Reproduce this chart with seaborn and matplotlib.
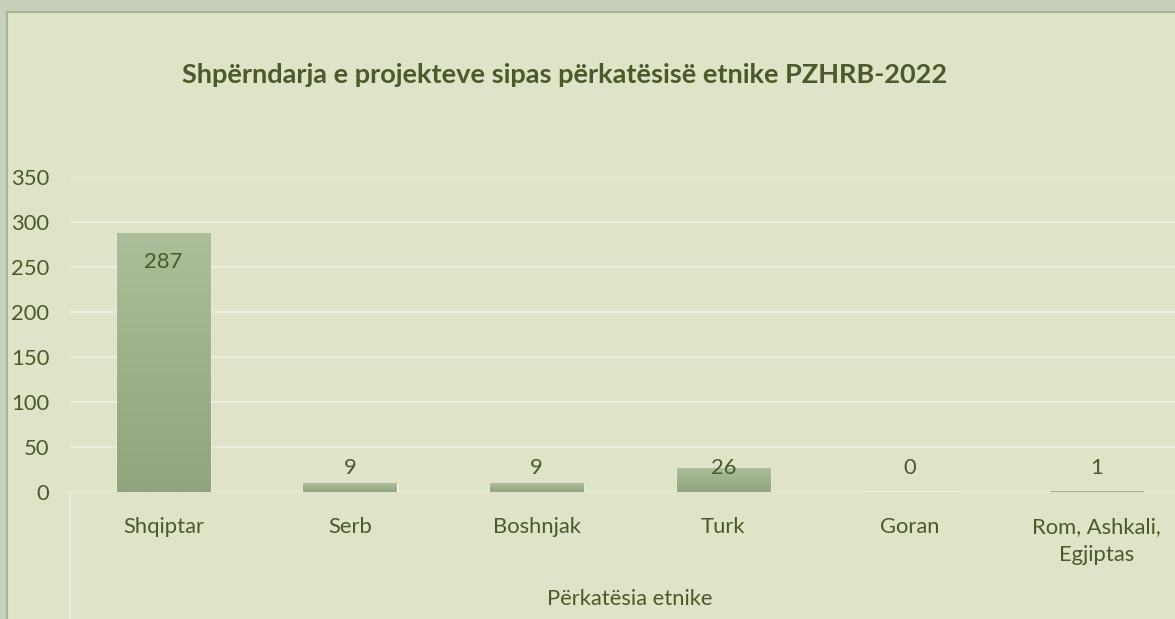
import matplotlib
matplotlib.use("Agg")
import matplotlib.pyplot as plt
import seaborn as sns
import numpy as np
import pandas as pd
from matplotlib.patches import Rectangle
from matplotlib.colors import LinearSegmentedColormap

categories = ["Shqiptar", "Serb", "Boshnjak", "Turk", "Goran", "Rom, Ashkali,\nEgjiptas"]
values = [287, 9, 9, 26, 0, 1]
yticks = [0, 50, 100, 150, 200, 250, 300, 350]
title = "Shpërndarja e projekteve sipas përkatësisë etnike PZHRB-2022"
xlabel = "Përkatësia etnike"

BG = "#dfe4c9"
OUTER = "#c8d0bb"
EDGE = "#a4b594"
TXT = "#4a5a2a"
GRID = "#eceedd"
FS = 15.8

sns.set_theme(style="white")
plt.rcParams['font.family'] = ['Lato', 'DejaVu Sans']

W, H = 1175, 619
fig = plt.figure(figsize=(W / 100, H / 100), dpi=100)
fig.patch.set_facecolor(BG)

# outer frame strips
fig.patches.append(Rectangle((0, 1 - 11 / H), 1, 11 / H, transform=fig.transFigure,
                             facecolor=OUTER, edgecolor="none", zorder=0))
fig.patches.append(Rectangle((0, 0), 6 / W, 1, transform=fig.transFigure,
                             facecolor=OUTER, edgecolor="none", zorder=0))
fig.lines.append(plt.Line2D([6.5 / W, 1], [1 - 11.5 / H, 1 - 11.5 / H], transform=fig.transFigure,
                            color=EDGE, lw=1.5))
fig.lines.append(plt.Line2D([6.5 / W, 6.5 / W], [0, 1 - 11.5 / H], transform=fig.transFigure,
                            color=EDGE, lw=1.5))

left, right = 70 / W, 1190 / W
bottom, top = 1 - 492 / H, 1 - 177 / H
ax = fig.add_axes([left, bottom, right - left, top - bottom])
ax.set_facecolor("none")

df = pd.DataFrame({"cat": categories, "val": values})
sns.barplot(data=df, x="cat", y="val", ax=ax, color="#9fb28b", width=0.5, saturation=1)

ax.set_ylim(0, 350)
ax.set_xlim(-0.5, len(categories) - 0.5)
ax.set_yticks(yticks)
ax.set_yticklabels([str(t) for t in yticks])
for t in yticks:
    ax.axhline(t, color=GRID, lw=1.5, zorder=0.5)

for s in ax.spines.values():
    s.set_visible(False)

# per-bar gradient fill
grad = np.linspace(0, 1, 256).reshape(-1, 1)
cmap = LinearSegmentedColormap.from_list("g", ["#91a47d", "#abbe99"])
for p in ax.patches:
    x0, y0 = p.get_x(), p.get_y()
    w, h = p.get_width(), p.get_height()
    if h <= 0:
        continue
    p.set_facecolor("none")
    ax.imshow(grad, extent=[x0, x0 + w, y0, y0 + h], origin="lower", cmap=cmap,
              aspect="auto", zorder=2, interpolation="bilinear")
ax.set_xlim(-0.5, len(categories) - 0.5)
ax.set_ylim(0, 350)

# data labels (Excel: inside end for tall bar, above otherwise)
for i, v in enumerate(values):
    if v > 100:
        ax.text(i, v - 32, str(v), ha="center", va="center", fontsize=FS, color=TXT, zorder=3)
    else:
        ax.text(i, max(v, 9) + 18 if v < 20 else v + 1, str(v), ha="center", va="center",
                fontsize=FS, color=TXT, zorder=3)

ax.tick_params(axis="y", length=0, pad=15, labelsize=FS, labelcolor=TXT)
ax.tick_params(axis="x", length=0, pad=18, labelsize=FS, labelcolor=TXT)
for lbl in ax.get_xticklabels():
    lbl.set_linespacing(1.5)
ax.set_xlabel(xlabel, fontsize=FS, color=TXT, labelpad=17)
ax.set_ylabel("")

# category axis divider line
ax.plot([-0.5, -0.5], [0, -150], color=GRID, lw=1.5, clip_on=False, zorder=1)

fig.text(565 / W, 1 - 75 / H, title, ha="center", va="center", fontsize=19.5,
         fontweight="bold", color=TXT)

fig.savefig("out.png", dpi=100, facecolor=BG)
